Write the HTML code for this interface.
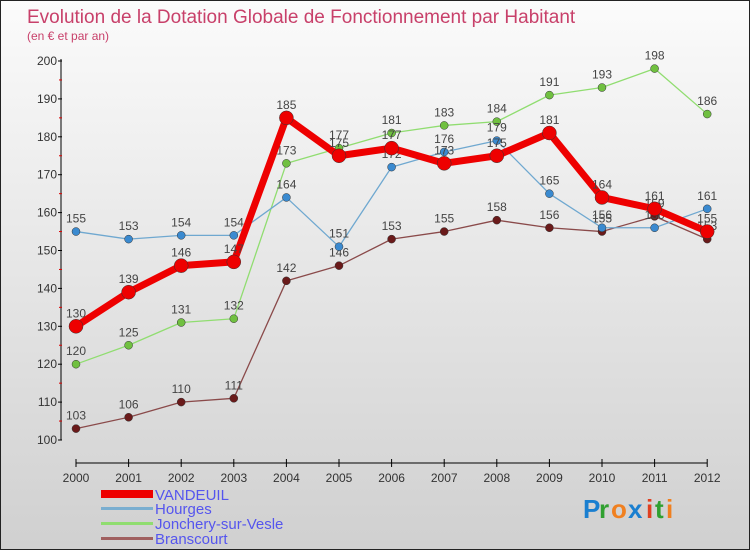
<!DOCTYPE html>
<html><head><meta charset="utf-8"><style>
body{margin:0}
#c{width:748px;height:548px;border:1px solid #222;background:linear-gradient(#fbfbfb,#d0d0d0);position:relative;overflow:hidden;font-family:"Liberation Sans",sans-serif}
</style></head><body>
<div id="c">
<svg id="s" width="748" height="548" xmlns="http://www.w3.org/2000/svg">
<text x="26" y="22" font-size="19" fill="#c8406a">Evolution de la Dotation Globale de Fonctionnement par Habitant</text>
<text x="26" y="39" font-size="12" fill="#c8406a">(en € et par an)</text>
<g id="axes"></g><g id="series"></g>
<g font-size="15" fill="#5555ee">
<rect x="100" y="489" width="52" height="8" fill="#e00"/>
<text x="154" y="499" fill="#5555ee">VANDEUIL</text>
<rect x="100" y="506" width="52" height="3" fill="#7aaed0"/>
<text x="154" y="513" fill="#5555ee">Hourges</text>
<rect x="100" y="521" width="52" height="3" fill="#90dd70"/>
<text x="154" y="528" fill="#5555ee">Jonchery-sur-Vesle</text>
<rect x="100" y="536" width="52" height="3" fill="#a06060"/>
<text x="154" y="543" fill="#5555ee">Branscourt</text>
</g>
<g font-size="26" font-weight="bold">
<text x="582" y="517" fill="#1a7fd0">P</text><text x="598" y="517" fill="#30a030">r</text><text x="610" y="517" fill="#f08020">o</text><text x="627" y="517" fill="#1a7fd0">x</text><text x="645" y="517" fill="#e04020">i</text><text x="654" y="517" fill="#30a030">t</text><text x="665" y="517" fill="#f08020">i</text>
</g>
</svg></div>
<script>
const years=["2000","2001","2002","2003","2004","2005","2006","2007","2008","2009","2010","2011","2012"];
const yTicks=[100,110,120,130,140,150,160,170,180,190,200];
const vandeuil=[130,139,146,147,185,175,177,173,175,181,164,161,155];
const hourges=[155,153,154,154,164,151,172,176,179,165,156,156,161];
const jonchery=[120,125,131,132,173,177,181,183,184,191,193,198,186];
const branscourt=[103,106,110,111,142,146,153,155,158,156,155,159,153];
const NS="http://www.w3.org/2000/svg";
const X=i=>75+i*52.6, Y=v=>439-(v-100)*3.79;
function mk(t,a,p){const e=document.createElementNS(NS,t);for(const k in a)e.setAttribute(k,a[k]);p.appendChild(e);return e;}
const ax=document.getElementById('axes');
let e=mk('line',{x1:60,y1:Y(200)-2,x2:60,y2:Y(100),stroke:'#000'},ax);


e=mk('line',{x1:X(0),y1:462,x2:X(12),y2:462,stroke:'#000'},ax);


yTicks.forEach((v,i)=>{
 mk('line',{x1:57,y1:Y(v),x2:61,y2:Y(v),stroke:'#000'},ax);
 if(i<yTicks.length-1)mk('line',{x1:58,y1:Y(v+5),x2:61,y2:Y(v+5),stroke:'#d00'},ax);
 const t=mk('text',{x:56,y:Y(v)+4,'text-anchor':'end','font-size':12,fill:'#333'},ax);
 t.textContent=v;
 
 
});
years.forEach((y,i)=>{
 mk('line',{x1:X(i),y1:458,x2:X(i),y2:466,stroke:'#000'},ax);
 const t=mk('text',{x:X(i),y:481,'text-anchor':'middle','font-size':12,fill:'#333'},ax);
 t.textContent=y;
 
 
});
const sg=document.getElementById('series');
function draw(data,name,color,w,r,dot){
 const g=mk('g',{},sg);
 
 
 const pl=mk('polyline',{points:data.map((v,i)=>X(i)+','+Y(v)).join(' '),fill:'none',stroke:color,'stroke-width':w,'stroke-linejoin':'round'},g);
 
 
 data.forEach((v,i)=>{
  const c=mk('circle',{cx:X(i),cy:Y(v),r:r,fill:dot,stroke:'#333','stroke-width':0.5},g);
  
  
  const t=mk('text',{x:X(i),y:Y(v)-9,'text-anchor':'middle','font-size':12,fill:'#444'},g);
  t.textContent=v;
  
  
 });
}
draw(branscourt,'branscourt','#8a4a4a',1.3,4,'#6a1a1a');
draw(jonchery,'jonchery','#90dd70',1.3,4,'#70c040');
draw(hourges,'hourges','#6fa8d0',1.3,4,'#3a8ad0');
draw(vandeuil,'vandeuil','#e00',7,7,'#e00');
</script>
</body></html>
